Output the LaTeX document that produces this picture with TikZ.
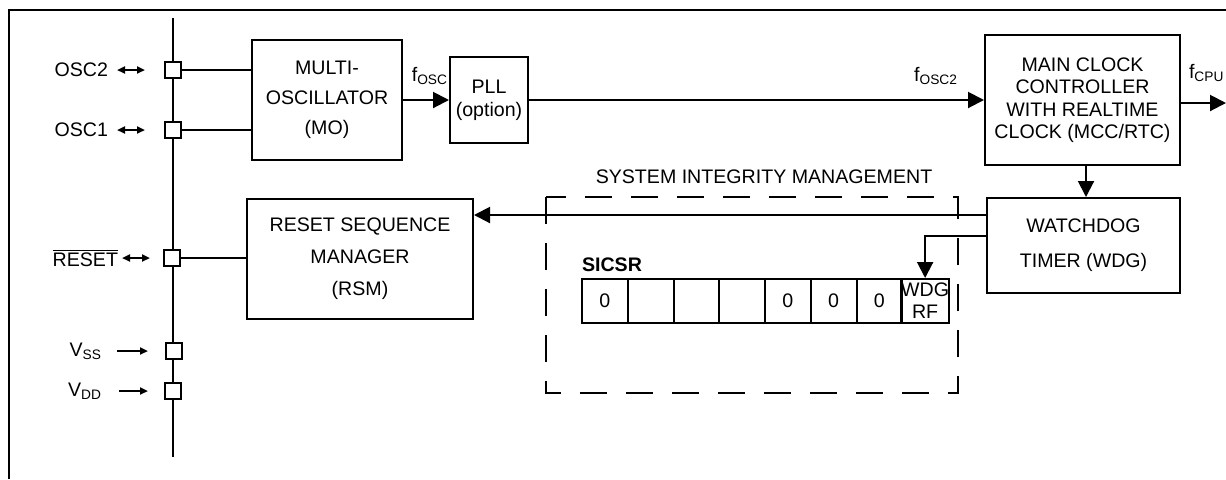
\documentclass[tikz,border=0pt]{standalone}
\usepackage{fontspec}
\setmainfont{Liberation Sans}
\usetikzlibrary{arrows.meta}

\tikzset{
    box/.style={draw,line width=1pt,align=center,inner sep=0pt},
    pin/.style={draw,line width=1pt,fill=white,minimum size=8pt,inner sep=0pt},
    cell/.style={draw,line width=1pt,minimum width=22.875pt,minimum height=22pt,inner sep=0pt,align=center,font=\fontsize{9.8}{11}\selectfont},
    arr/.style={-{Triangle[length=8pt,width=8pt]}},
    pinarr/.style={-{Triangle[length=4pt,width=3.5pt]}},
    dpinarr/.style={{Triangle[length=4pt,width=3.5pt]}-{Triangle[length=4pt,width=3.5pt]}}
}

\begin{document}
\begin{tikzpicture}[x=0.5pt,y=-0.5pt,line width=1pt,font=\fontsize{9.8}{11}\selectfont]
    \useasboundingbox (0,0) rectangle (1226,479);
    % frame and pin bus
    \draw (9,479)--(9,10)--(1226,10);
    \draw (173,18)--(173,457);

    \node[pin](posc2)at(173,70){};
    \node[pin](posc1)at(173,130){};
    \node[pin](preset)at(172,258){};
    \node[pin](pvss)at(174,351){};
    \node[pin](pvdd)at(173,391){};

    \node[anchor=east,inner sep=1pt](losc2)at(111,70){OSC2};
    \node[anchor=east,inner sep=1pt](losc1)at(111,130){OSC1};
    \node[anchor=east,inner sep=1pt](lreset)at(121,258){$\overline{\mbox{RESET}}$};
    \node[anchor=east,inner sep=1pt](lvss)at(105,351){V\textsubscript{SS}};
    \node[anchor=east,inner sep=1pt](lvdd)at(105,391){V\textsubscript{DD}};
    \draw[dpinarr]([xshift=3pt]losc2.east)--++(28,0);
    \draw[dpinarr]([xshift=3pt]losc1.east)--++(28,0);
    \draw[dpinarr]([xshift=0.5pt]lreset.east)--++(28,0);
    \draw[pinarr]([xshift=6pt]lvss.east)--++(31,0);
    \draw[pinarr]([xshift=7pt]lvdd.east)--++(29,0);

    % blocks
    \node[box,minimum width=75pt,minimum height=60pt,font=\fontsize{9.8}{15}\selectfont](mo)at(327,100){MULTI-\\OSCILLATOR\\(MO)};
    \node[box,minimum width=39pt,minimum height=43pt,font=\fontsize{9.8}{11.5}\selectfont](pll)at(489,100){PLL\\(option)};
    \node[box,minimum width=97.5pt,minimum height=65pt,font=\fontsize{9.8}{11.25}\selectfont](mcc)at(1082.5,100){MAIN CLOCK\\CONTROLLER\\WITH REALTIME\\CLOCK (MCC/RTC)};
    \node[box,minimum width=96.5pt,minimum height=47.5pt,font=\fontsize{9.8}{17.5}\selectfont](wdg)at(1083.5,245.5){WATCHDOG\\TIMER (WDG)};
    \node[box,minimum width=113pt,minimum height=60pt,font=\fontsize{9.8}{16}\selectfont](rsm)at(360,259){RESET SEQUENCE\\MANAGER\\(RSM)};

    % system integrity management
    \draw[dash pattern=on 13.5pt off 9.5pt](546,197)rectangle(958,393);
    \node(sim)at(764,177){SYSTEM INTEGRITY MANAGEMENT};
    \node[anchor=west,inner sep=0pt](sicsr)at(581,265){\textbf{SICSR}};
    \foreach \v [count=\i] in {0,,,,0,0,0,{WDG\\RF}}
        \node[cell](r\i)at({582+45.75*(\i-0.5)},301){\v};

    % connections
    \draw(posc2)--(posc2-|mo.west);
    \draw(posc1)--(posc1-|mo.west);
    \draw(preset)--(preset-|rsm.west);
    \draw[arr](mo.east)--(mo.east-|pll.west)node[pos=1,anchor=south east,inner sep=0pt,yshift=7pt]{f\textsubscript{OSC}};
    \draw[arr](pll.east)--(pll.east-|mcc.west)node[pos=1,anchor=south east,inner sep=0pt,xshift=-12.5pt,yshift=7pt]{f\textsubscript{OSC2}};
    \draw[arr]([yshift=-1.5pt]mcc.east)--++(45,0)node[pos=0,anchor=south west,inner sep=0pt,xshift=3.5pt,yshift=10pt]{f\textsubscript{CPU}};
    \draw[arr]([xshift=1.75pt]mcc.south)--([xshift=1.75pt]mcc.south|-wdg.north);
    \draw[arr]([yshift=15.25pt]wdg.west)--([yshift=15.25pt]wdg.west-|rsm.east);
    \draw[arr]([yshift=4.75pt]wdg.west)-|(r8.north);
\end{tikzpicture}
\end{document}
